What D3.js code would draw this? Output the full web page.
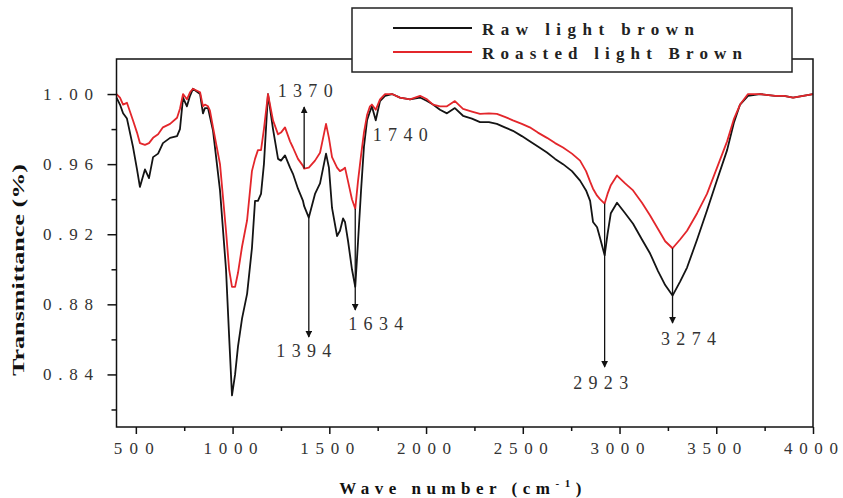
<!DOCTYPE html>
<html>
<head>
<meta charset="utf-8">
<script src="https://cdn.jsdelivr.net/npm/d3@7"></script>
<style>
  html, body { margin: 0; padding: 0; background: #fff; }
  svg { display: block; font-family: "Liberation Serif", "Times New Roman", serif; }
</style>
</head>
<body>
<svg id="chart" width="843" height="498"></svg>
<script>
// FTIR spectra: wavenumber (cm-1) against transmittance
const waves = [400, 418, 434, 454, 485, 506, 521, 547, 568, 589, 615, 640, 677, 713, 728, 744, 764, 780, 795, 832,
  847, 857, 873, 883, 899, 935, 966, 982, 997, 1013, 1028, 1049, 1075, 1100, 1116, 1131, 1147, 1162, 1183, 1209,
  1235, 1250, 1271, 1297, 1312, 1338, 1364, 1370, 1394, 1426, 1452, 1483, 1498, 1514, 1540, 1555, 1571, 1581, 1597, 1617,
  1634, 1648, 1664, 1679, 1695, 1710, 1720, 1740, 1762, 1788, 1824, 1865, 1917, 1969, 2005, 2036, 2072, 2108, 2149, 2191,
  2237, 2279, 2325, 2366, 2407, 2449, 2495, 2536, 2578, 2625, 2667, 2708, 2754, 2796, 2827, 2848, 2863, 2884, 2899, 2923,
  2938, 2955, 2987, 3029, 3070, 3116, 3158, 3199, 3236, 3274, 3313, 3349, 3401, 3452, 3504, 3556, 3592, 3623, 3664, 3726,
  3804, 3850, 3897, 3949, 4000];

const rawLightBrown = [0.998, 0.994, 0.989, 0.986, 0.970, 0.957, 0.947, 0.957, 0.952, 0.964, 0.966, 0.972, 0.975, 0.976, 0.980, 0.998, 0.993, 0.999, 1.003, 1.000,
  0.989, 0.992, 0.992, 0.987, 0.979, 0.945, 0.900, 0.862, 0.828, 0.840, 0.856, 0.872, 0.886, 0.912, 0.939, 0.939, 0.943, 0.960, 1.000, 0.980,
  0.963, 0.962, 0.965, 0.958, 0.9545, 0.946, 0.939, 0.936, 0.9295, 0.943, 0.949, 0.966, 0.958, 0.935, 0.919, 0.922, 0.929, 0.927, 0.916, 0.900,
  0.890, 0.915, 0.945, 0.970, 0.985, 0.990, 0.993, 0.985, 0.996, 0.999, 1.000, 0.998, 0.997, 0.998, 0.996, 0.994, 0.991, 0.989, 0.992, 0.9876,
  0.986, 0.984, 0.984, 0.983, 0.981, 0.979, 0.976, 0.973, 0.970, 0.9666, 0.963, 0.960, 0.956, 0.9506, 0.945, 0.939, 0.927, 0.924, 0.918, 0.908,
  0.920, 0.932, 0.938, 0.932, 0.926, 0.917, 0.909, 0.899, 0.891, 0.885, 0.893, 0.901, 0.917, 0.9335, 0.951, 0.968, 0.984, 0.994, 0.999, 1.000,
  0.999, 0.999, 0.998, 0.999, 1.000];

const roastedLightBrown = [1.000, 0.998, 0.994, 0.995, 0.985, 0.978, 0.972, 0.971, 0.972, 0.975, 0.977, 0.981, 0.983, 0.9865, 0.9916, 1.000, 0.997, 1.001, 1.003, 1.001,
  0.993, 0.994, 0.993, 0.9905, 0.981, 0.960, 0.922, 0.900, 0.890, 0.890, 0.898, 0.913, 0.928, 0.956, 0.963, 0.968, 0.968, 0.980, 1.000, 0.985,
  0.977, 0.978, 0.981, 0.973, 0.9695, 0.963, 0.959, 0.9575, 0.958, 0.962, 0.9665, 0.983, 0.975, 0.964, 0.958, 0.956, 0.957, 0.958, 0.950, 0.940,
  0.9345, 0.950, 0.965, 0.978, 0.988, 0.993, 0.994, 0.991, 0.997, 1.000, 1.000, 0.998, 0.997, 0.999, 0.997, 0.994, 0.993, 0.993, 0.996, 0.9915,
  0.990, 0.9887, 0.989, 0.9887, 0.987, 0.985, 0.983, 0.981, 0.978, 0.975, 0.972, 0.9695, 0.966, 0.962, 0.956, 0.950, 0.946, 0.942, 0.940, 0.9375,
  0.943, 0.948, 0.9535, 0.949, 0.945, 0.938, 0.9307, 0.923, 0.916, 0.912, 0.917, 0.922, 0.932, 0.943, 0.958, 0.973, 0.986, 0.994, 1.000, 1.000,
  0.999, 0.999, 0.998, 0.999, 1.000];

const seriesNames = ["Raw light brown", "Roasted light Brown"];
const xTickValues = [500, 1000, 1500, 2000, 2500, 3000, 3500, 4000];
const xMinorTicks = [750, 1250, 1750, 2250, 2750, 3250, 3750];
const yTickValues = [0.84, 0.88, 0.92, 0.96, 1.00];
const yMinorTicks = [0.82, 0.86, 0.90, 0.94, 0.98];

// Peak markers: wavenumber, which trace the arrow starts on, where the arrow ends (transmittance)
const peakLabels = ["1370", "1394", "1634", "2923", "3274"];
const peakWaves = [1370, 1394, 1634, 2923, 3274];
const peakSeries = ["roasted", "raw", "roasted", "roasted", "roasted"];
const peakArrowEnds = [0.9926, 0.8614, 0.8768, 0.8442, 0.8693];
const plainLabel = { text: "1740", wave: 1740, value: 0.9766 };

const svg = d3.select("#chart");
const margin = { left: 116.5, right: 813, top: 59, bottom: 427 };

const x = d3.scaleLinear().domain([400, 4000]).range([margin.left, margin.right]);
const y = d3.scaleLinear().domain([0.81, 1.02]).range([margin.bottom, margin.top]);

const rawData = waves.map((w, i) => ({ w, t: rawLightBrown[i] }));
const roastData = waves.map((w, i) => ({ w, t: roastedLightBrown[i] }));

function valueAt(data, w) {
  const i = d3.bisector(d => d.w).left(data, w);
  if (i <= 0) return data[0].t;
  if (i >= data.length) return data[data.length - 1].t;
  const a = data[i - 1], b = data[i];
  return a.t + (b.t - a.t) * (w - a.w) / (b.w - a.w);
}

const line = d3.line().x(d => x(d.w)).y(d => y(d.t)).curve(d3.curveLinear);

const plot = svg.append("g");

plot.append("path").datum(rawData)
  .attr("d", line).attr("fill", "none").attr("stroke", "#141414").attr("stroke-width", 1.8)
  .attr("stroke-linejoin", "round");
plot.append("path").datum(roastData)
  .attr("d", line).attr("fill", "none").attr("stroke", "#e3262b").attr("stroke-width", 1.8)
  .attr("stroke-linejoin", "round");

// Frame
svg.append("rect")
  .attr("x", margin.left).attr("y", margin.top)
  .attr("width", margin.right - margin.left).attr("height", margin.bottom - margin.top)
  .attr("fill", "none").attr("stroke", "#111").attr("stroke-width", 1.5);

// X axis
const xAxis = svg.append("g").attr("transform", `translate(0,${margin.bottom})`);
xAxis.call(d3.axisBottom(x).tickValues(xTickValues).tickSize(7).tickFormat(""))
  .call(g => g.select(".domain").remove())
  .call(g => g.selectAll(".tick line").attr("stroke", "#111").attr("stroke-width", 1.5));
xAxis.append("g").call(d3.axisBottom(x).tickValues(xMinorTicks).tickSize(4).tickFormat(""))
  .call(g => g.select(".domain").remove())
  .call(g => g.selectAll(".tick line").attr("stroke", "#111").attr("stroke-width", 1.5));
svg.append("g").selectAll("text").data(xTickValues).join("text")
  .attr("x", d => x(d) - 2).attr("y", 454)
  .attr("text-anchor", "middle")
  .attr("font-size", 17).attr("fill", "#333")
  .attr("textLength", d => String(d).length === 4 ? 54 : 40)
  .attr("lengthAdjust", "spacing")
  .text(d => d);

// Y axis
const yAxis = svg.append("g").attr("transform", `translate(${margin.left},0)`);
yAxis.call(d3.axisLeft(y).tickValues(yTickValues).tickSize(9).tickFormat(""))
  .call(g => g.select(".domain").remove())
  .call(g => g.selectAll(".tick line").attr("stroke", "#111").attr("stroke-width", 1.5));
yAxis.append("g").call(d3.axisLeft(y).tickValues(yMinorTicks).tickSize(5).tickFormat(""))
  .call(g => g.select(".domain").remove())
  .call(g => g.selectAll(".tick line").attr("stroke", "#111").attr("stroke-width", 1.5));
svg.append("g").selectAll("text").data(yTickValues).join("text")
  .attr("x", 93).attr("y", d => y(d) + 6)
  .attr("text-anchor", "end")
  .attr("font-size", 17).attr("fill", "#333")
  .attr("textLength", 50).attr("lengthAdjust", "spacing")
  .text(d => d3.format(".2f")(d));

// Axis titles
const xTitle = svg.append("text")
  .attr("x", 463).attr("y", 494).attr("text-anchor", "middle")
  .attr("font-size", 17).attr("font-weight", "bold").attr("fill", "#111")
  .attr("letter-spacing", 5.5);
xTitle.append("tspan").text("Wave number (cm");
xTitle.append("tspan").attr("dy", -7).attr("font-size", 11).text("-1");
xTitle.append("tspan").attr("dy", 7).text(")");

svg.append("text")
  .attr("transform", "translate(24,270) rotate(-90)")
  .attr("text-anchor", "middle")
  .attr("font-size", 17).attr("font-weight", "bold").attr("fill", "#111")
  .attr("textLength", 212).attr("lengthAdjust", "spacingAndGlyphs")
  .text("Transmittance (%)");

// Peak arrows
const defs = svg.append("defs");
defs.append("marker").attr("id", "head")
  .attr("viewBox", "0 0 10 10").attr("refX", 9).attr("refY", 5)
  .attr("markerWidth", 7).attr("markerHeight", 7).attr("markerUnits", "userSpaceOnUse")
  .attr("orient", "auto")
  .append("path").attr("d", "M0,0 L10,5 L0,10 Z").attr("fill", "#111");

const labelOffsets = {
  "1370": { dx: 1, dy: -10, anchor: "middle" },
  "1394": { dx: -5, dy: 20, anchor: "middle" },
  "1634": { dx: -7, dy: 20, anchor: "start" },
  "2923": { dx: -4, dy: 22, anchor: "middle" },
  "3274": { dx: 16, dy: 22, anchor: "middle" }
};

peakLabels.forEach((lab, i) => {
  const w = peakWaves[i];
  const src = peakSeries[i] === "raw" ? rawData : roastData;
  const t0 = valueAt(src, w);
  const t1 = peakArrowEnds[i];
  svg.append("line")
    .attr("x1", x(w)).attr("y1", y(t0))
    .attr("x2", x(w)).attr("y2", y(t1))
    .attr("stroke", "#111").attr("stroke-width", 1.3)
    .attr("marker-end", "url(#head)");
  const o = labelOffsets[lab];
  svg.append("text")
    .attr("x", x(w) + o.dx).attr("y", y(t1) + o.dy)
    .attr("text-anchor", o.anchor)
    .attr("font-size", 18).attr("fill", "#333")
    .attr("textLength", 55).attr("lengthAdjust", "spacing")
    .text(lab);
});

svg.append("text")
  .attr("x", x(plainLabel.wave) - 3).attr("y", y(plainLabel.value) + 6)
  .attr("text-anchor", "start")
  .attr("font-size", 18).attr("fill", "#333")
  .attr("textLength", 55).attr("lengthAdjust", "spacing")
  .text(plainLabel.text);

// Legend
const legend = svg.append("g");
legend.append("rect")
  .attr("x", 352).attr("y", 8).attr("width", 440).attr("height", 64)
  .attr("fill", "#fff").attr("stroke", "#222").attr("stroke-width", 1.5);
const legendColors = ["#141414", "#e3262b"];
const legendLens = [212, 260];
seriesNames.forEach((name, i) => {
  const yy = 28 + i * 24;
  legend.append("line")
    .attr("x1", 393).attr("x2", 472).attr("y1", yy).attr("y2", yy)
    .attr("stroke", legendColors[i]).attr("stroke-width", 2);
  legend.append("text")
    .attr("x", 482).attr("y", yy + 7)
    .attr("font-size", 17).attr("font-weight", "bold").attr("fill", "#222")
    .attr("textLength", legendLens[i]).attr("lengthAdjust", "spacing")
    .text(name);
});
</script>
</body>
</html>
